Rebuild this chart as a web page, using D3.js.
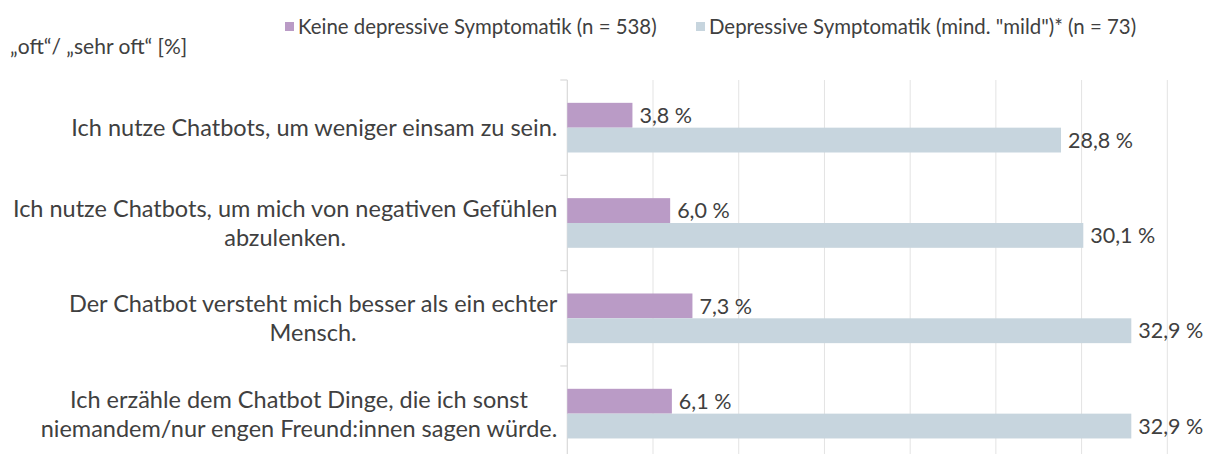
<!DOCTYPE html>
<html>
<head>
<meta charset="utf-8">
<script src="https://cdn.jsdelivr.net/npm/d3@7"></script>
<style>
  body { margin: 0; background: #fff; }
  text { font-family: Lato, "Noto Sans", sans-serif; fill: #404040; }
</style>
</head>
<body>
<div id="chart"></div>
<script>
// categories (wrapped lines as in the original)
const categories = [
    ["Ich nutze Chatbots, um weniger einsam zu sein."],
    ["Ich nutze Chatbots, um mich von negativen Gefühlen", "abzulenken."],
    ["Der Chatbot versteht mich besser als ein echter", "Mensch."],
    ["Ich erzähle dem Chatbot Dinge, die ich sonst", "niemandem/nur engen Freund:innen sagen würde."]
];
const seriesNames = ["Keine depressive Symptomatik (n = 538)", "Depressive Symptomatik (mind. \"mild\")* (n = 73)"];
const noDepression = [3.8, 6.0, 7.3, 6.1];
const depression = [28.8, 30.1, 32.9, 32.9];
const xTicks = [0, 5, 10, 15, 20, 25, 30, 35];
const axisTitle = "„oft“/ „sehr oft“ [%]";

const colors = ["#BA9BC6", "#C7D5DE"];

const svgWidth = 1208;
const svgHeight = 454;
const margin = { top: 80, right: 40.7, bottom: -7.3, left: 567.3 };
const width = svgWidth - margin.left - margin.right;
const height = svgHeight - margin.top - margin.bottom;

const svg = d3.select("#chart").append("svg")
    .attr("width", svgWidth)
    .attr("height", svgHeight);

const g = svg.append("g")
    .attr("transform", `translate(${margin.left},${margin.top})`);

const xScale = d3.scaleLinear()
    .domain([0, 35])
    .range([0, width]);

const yScale = d3.scaleBand()
    .domain(d3.range(categories.length))
    .range([0, height])
    .paddingInner(0.479)
    .paddingOuter(0.2395);

const ySub = d3.scaleBand()
    .domain([0, 1])
    .range([0, yScale.bandwidth()]);

// gridlines
g.selectAll(".grid")
    .data(xTicks.slice(1))
    .enter()
    .append("line")
    .attr("x1", d => xScale(d))
    .attr("x2", d => xScale(d))
    .attr("y1", 0)
    .attr("y2", height)
    .attr("stroke", "#E3E3E3")
    .attr("stroke-width", 1);

// category axis line + tick marks between categories
g.append("line")
    .attr("x1", 0).attr("x2", 0)
    .attr("y1", 0).attr("y2", height)
    .attr("stroke", "#D9D9D9")
    .attr("stroke-width", 1.2);

const step = yScale.step();
g.selectAll(".ytick")
    .data(d3.range(categories.length + 1))
    .enter()
    .append("line")
    .attr("x1", -7).attr("x2", 0)
    .attr("y1", i => i * step)
    .attr("y2", i => i * step)
    .attr("stroke", "#D9D9D9")
    .attr("stroke-width", 1.2);

// bars
const series = [noDepression, depression];
series.forEach((vals, s) => {
    g.selectAll(".bar" + s)
        .data(vals)
        .enter()
        .append("rect")
        .attr("x", 0)
        .attr("y", (d, i) => yScale(i) + ySub(s))
        .attr("width", d => xScale(d))
        .attr("height", ySub.bandwidth())
        .attr("fill", colors[s]);

    g.selectAll(".lab" + s)
        .data(vals)
        .enter()
        .append("text")
        .attr("x", d => xScale(d) + 7)
        .attr("y", (d, i) => yScale(i) + ySub(s) + ySub.bandwidth() / 2)
        .attr("dy", "0.36em")
        .style("font-size", "21.5px")
        .text(d => d.toFixed(1).replace(".", ",") + " %");
});

// category labels: lines centred on each other, block right-aligned to the axis
const labelRight = -10;
const lineH = 29;
categories.forEach((lines, i) => {
    const grp = g.append("g");
    const cy = yScale(i) + yScale.bandwidth() / 2;
    const texts = lines.map((line, k) => grp.append("text")
        .attr("y", cy + (k - (lines.length - 1) / 2) * lineH)
        .attr("dy", "0.36em")
        .style("font-size", "23.5px")
        .style("text-anchor", "middle")
        .text(line));
    const maxW = d3.max(texts, t => t.node().getComputedTextLength());
    texts.forEach(t => t.attr("x", labelRight - maxW / 2));
});

// axis title top left
svg.append("text")
    .attr("x", 10)
    .attr("y", 54)
    .style("font-size", "21px")
    .text(axisTitle);

// legend
const legendX = [285, 696];
seriesNames.forEach((name, s) => {
    svg.append("rect")
        .attr("x", legendX[s])
        .attr("y", 22)
        .attr("width", 9)
        .attr("height", 9)
        .attr("fill", colors[s]);
    svg.append("text")
        .attr("x", legendX[s] + 13)
        .attr("y", 34)
        .style("font-size", "20.4px")
        .text(name);
});
</script>
</body>
</html>
